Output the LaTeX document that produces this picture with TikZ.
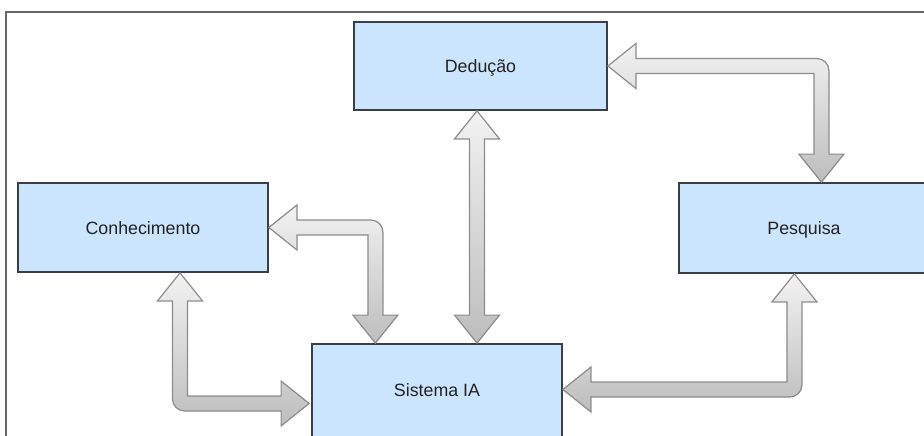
\documentclass[tikz,border=0pt]{standalone}
\usepackage{fontspec}
\setmainfont{Liberation Sans}
\usetikzlibrary{calc}

\definecolor{boxfill}{HTML}{CCE5FF}
\definecolor{boxline}{HTML}{3A3F47}
\definecolor{framegray}{HTML}{666666}
\definecolor{arrowtop}{HTML}{F2F2F2}
\definecolor{arrowbot}{HTML}{BDBDBD}
\definecolor{arrowline}{HTML}{8C8C8C}
\definecolor{labeltext}{HTML}{222222}

\begin{document}
\begin{tikzpicture}[x=1pt,y=-1pt,
  block/.style={rectangle, draw=boxline, line width=1.8pt, fill=boxfill,
    inner sep=0pt, text=labeltext, text height=13pt, text depth=0pt,
    font=\fontsize{17.8}{20}\selectfont},
  fatarrow/.style={draw=arrowline, line width=1.2pt,
    top color=arrowtop, bottom color=arrowbot},
  framestroke/.style={draw=framegray, line width=1.3pt}]

\useasboundingbox (0,0) rectangle (924,436);

% outer frame
\draw[framestroke] (6,436) -- (6,12) -- (924,12);

% boxes
\node[block, minimum width=253pt, minimum height=88pt] (ded) at (480.5,66) {Dedução};
\node[block, minimum width=250pt, minimum height=89pt] (con) at (143,227.5) {Conhecimento};
\node[block, minimum width=250pt, minimum height=90pt] (pes) at (804,228) {Pesquisa};
\node[block, minimum width=250pt, minimum height=100pt, text depth=8pt] (sys) at (437,394) {Sistema IA};

% connector points
\coordinate (aT1) at (con.east);
\coordinate (aC) at ($(con.east)+(106.5,0)$);
\coordinate (aT2) at (aC |- sys.north);

\coordinate (bT1) at ($(ded.south)+(-3.5,0)$);
\coordinate (bT2) at (bT1 |- sys.north);

\coordinate (cT1) at (ded.east);
\coordinate (cC) at ($(ded.east)+(213.5,0)$);
\coordinate (cT2) at (cC |- pes.north);

\coordinate (dT2) at ($(sys.east)+(0,-4.5)$);
\coordinate (dC) at ($(dT2)+(231.5,0)$);
\coordinate (dT1) at (dC |- pes.south);

\coordinate (eT1) at ($(con.south)+(37,0)$);
\coordinate (eT2) at ($(sys.west)+(-2,9.5)$);
\coordinate (eC) at (eT1 |- eT2);

% Conhecimento <-> Sistema IA (upper)
\path[fatarrow] (aT1) -- ($(aT1)+(28,-22.5)$) -- ($(aT1)+(28,-7.5)$)
  [rounded corners=12pt] -- ($(aC)+(7.5,-7.5)$) [sharp corners]
  -- ($(aT2)+(7.5,-28)$) -- ($(aT2)+(22.5,-28)$) -- (aT2)
  -- ($(aT2)+(-22.5,-28)$) -- ($(aT2)+(-7.5,-28)$)
  -- ($(aC)+(-7.5,7.5)$) -- ($(aT1)+(28,7.5)$) -- ($(aT1)+(28,22.5)$) -- cycle;

% Dedução <-> Sistema IA
\path[fatarrow] (bT1) -- ($(bT1)+(22.5,28)$) -- ($(bT1)+(7.5,28)$)
  -- ($(bT2)+(7.5,-28)$) -- ($(bT2)+(22.5,-28)$) -- (bT2)
  -- ($(bT2)+(-22.5,-28)$) -- ($(bT2)+(-7.5,-28)$)
  -- ($(bT1)+(-7.5,28)$) -- ($(bT1)+(-22.5,28)$) -- cycle;

% Dedução <-> Pesquisa
\path[fatarrow] (cT1) -- ($(cT1)+(28,-22.5)$) -- ($(cT1)+(28,-7.5)$)
  [rounded corners=12pt] -- ($(cC)+(7.5,-7.5)$) [sharp corners]
  -- ($(cT2)+(7.5,-28)$) -- ($(cT2)+(22.5,-28)$) -- (cT2)
  -- ($(cT2)+(-22.5,-28)$) -- ($(cT2)+(-7.5,-28)$)
  -- ($(cC)+(-7.5,7.5)$) -- ($(cT1)+(28,7.5)$) -- ($(cT1)+(28,22.5)$) -- cycle;

% Pesquisa <-> Sistema IA
\path[fatarrow] (dT1) -- ($(dT1)+(22.5,28)$) -- ($(dT1)+(7.5,28)$)
  [rounded corners=12pt] -- ($(dC)+(7.5,7.5)$) [sharp corners]
  -- ($(dT2)+(28,7.5)$) -- ($(dT2)+(28,22.5)$) -- (dT2)
  -- ($(dT2)+(28,-22.5)$) -- ($(dT2)+(28,-7.5)$)
  -- ($(dC)+(-7.5,-7.5)$) -- ($(dT1)+(-7.5,28)$) -- ($(dT1)+(-22.5,28)$) -- cycle;

% Conhecimento <-> Sistema IA (lower)
\path[fatarrow] (eT1) -- ($(eT1)+(22.5,28)$) -- ($(eT1)+(7.5,28)$)
  -- ($(eC)+(7.5,-7.5)$) -- ($(eT2)+(-28,-7.5)$) -- ($(eT2)+(-28,-22.5)$) -- (eT2)
  -- ($(eT2)+(-28,22.5)$) -- ($(eT2)+(-28,7.5)$)
  [rounded corners=12pt] -- ($(eC)+(-7.5,7.5)$) [sharp corners]
  -- ($(eT1)+(-7.5,28)$) -- ($(eT1)+(-22.5,28)$) -- cycle;

\end{tikzpicture}
\end{document}
